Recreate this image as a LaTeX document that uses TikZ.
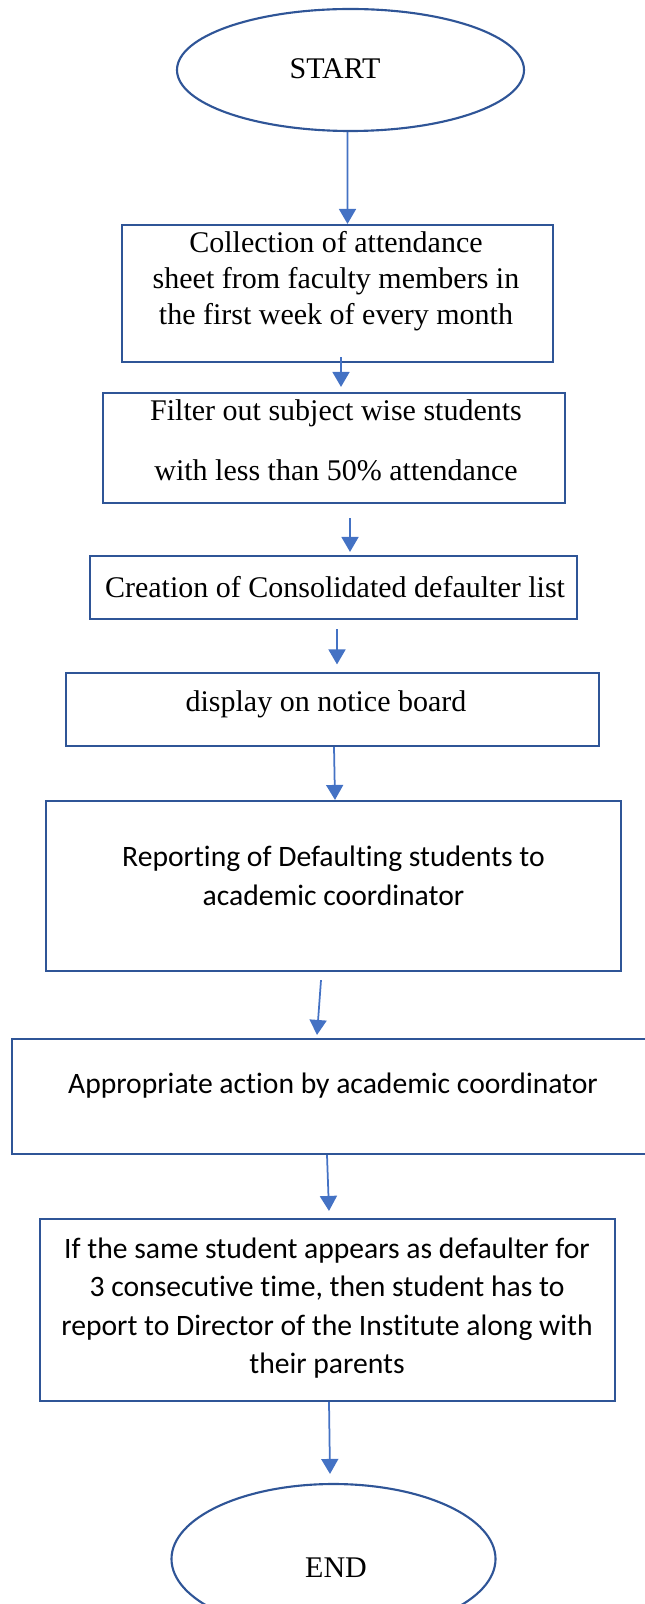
\documentclass[tikz,border=0pt]{standalone}
\usepackage{fontspec}
\setmainfont{Liberation Serif}
\newfontfamily\calibri[Ligatures=NoCommon]{Carlito}
\usetikzlibrary{arrows.meta,shapes.geometric,positioning}
\usepackage{xcolor}
\definecolor{edge}{HTML}{2F5597}
\definecolor{arrowblue}{HTML}{4472C4}

\begin{document}
\begin{tikzpicture}[
				x=0.4pt,y=-0.4pt,
				stepbox/.style={draw=edge,line width=0.85pt,rectangle,inner sep=0pt},
				terminal/.style={draw=edge,line width=0.85pt,ellipse,inner sep=0pt},
				serif/.style={inner sep=0pt,align=center,font=\fontsize{12}{14.4}\selectfont},
				sans/.style={inner sep=0pt,align=center,font=\calibri\fontsize{11.85}{15.4}\selectfont},
				flow/.style={-{Triangle[length=6pt,width=6.8pt]},line width=0.7pt,arrowblue}
				]
				
				\clip (0,0) rectangle (645,1604);
				
				\node[terminal,minimum width=347*0.4pt,minimum height=122*0.4pt] (start) at (350.5,70) {};
				\node[serif] (tstart) at (335,69) {START};
				
				\node[stepbox,minimum width=431*0.4pt,minimum height=137*0.4pt] (collect) at (337.5,293.5) {};
				\node[serif] (tcollect) at (336,281) {Collection of attendance\\sheet from faculty members in\\the first week of every month};
				
				\node[stepbox,minimum width=462*0.4pt,minimum height=110*0.4pt] (filter) at (334,448) {};
				\node[serif,font=\fontsize{12}{24}\selectfont] (tfilter) at (336,440) {Filter out subject wise students\\with less than 50\%{} attendance};
				
				\node[stepbox,minimum width=487*0.4pt,minimum height=63*0.4pt] (create) at (333.5,587.5) {};
				\node[serif] (tcreate) at (335,587) {Creation of Consolidated defaulter list};
				
				\node[stepbox,minimum width=533*0.4pt,minimum height=73*0.4pt] (notice) at (332.5,709.5) {};
				\node[serif] (tnotice) at (326,704) {display on notice board};
				
				\node[stepbox,minimum width=575*0.4pt,minimum height=170*0.4pt] (report) at (333.5,886) {};
				\node[sans] (treport) at (333.5,876) {Reporting of Defaulting students to\\academic coordinator};
				
				\node[stepbox,minimum width=648*0.4pt,minimum height=115*0.4pt] (action) at (336,1096.5) {};
				\node[sans] (taction) at (333,1086) {Appropriate action by academic coordinator};
				
				\node[stepbox,minimum width=575*0.4pt,minimum height=182*0.4pt] (director) at (327.5,1310) {};
				\node[sans] (tdirector) at (327,1308) {If the same student appears as defaulter for\\3 consecutive time, then student has to\\report to Director of the Institute along with\\their parents};
				
				\node[terminal,minimum width=324*0.4pt,minimum height=150*0.4pt] (end) at (333.5,1559) {};
				\node[serif] (tend) at (336,1568) {END};
				
				% arrows
				\draw[flow] ([xshift=-1.2pt]start.south) -- ([xshift=4pt]collect.north);
				\draw[flow] ([xshift=1.4pt,yshift=2.4pt]collect.south) -- ([xshift=2.8pt,yshift=2pt]filter.north);
				\draw[flow] ([xshift=6.4pt,yshift=-5.6pt]filter.south) -- ([xshift=6.6pt,yshift=1.2pt]create.north);
				\draw[flow] ([xshift=1.4pt,yshift=-3.6pt]create.south) -- ([xshift=1.8pt,yshift=3pt]notice.north);
				\draw[flow] ([xshift=0.6pt]notice.south) -- ([xshift=0.6pt]report.north);
				\draw[flow] ([xshift=-5pt,yshift=-3.2pt]report.south) -- ([xshift=-7.6pt,yshift=1.2pt]action.north);
				\draw[flow] ([xshift=-3.6pt]action.south) -- ([xshift=0.6pt,yshift=2.8pt]director.north);
				\draw[flow] ([xshift=0.6pt]director.south) -- ([xshift=-1.4pt,yshift=3.6pt]end.north);
				
\end{tikzpicture}
\end{document}
